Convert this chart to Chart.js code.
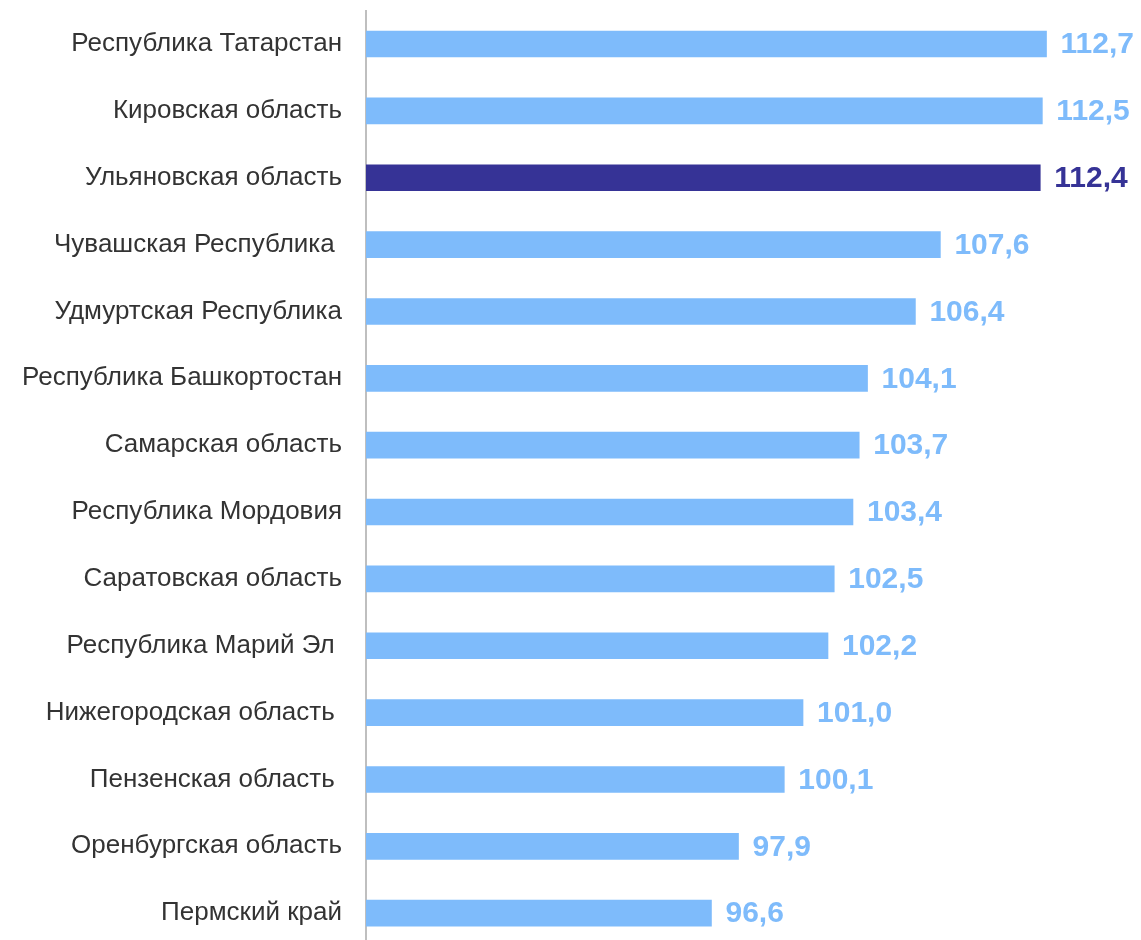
<!DOCTYPE html>
<html>
<head>
<meta charset="utf-8">
<script src="https://cdn.jsdelivr.net/npm/chart.js@4"></script>
<style>
  html, body { margin: 0; padding: 0; background: #fff; }
  #wrap { width: 1141px; height: 940px; overflow: hidden; position: relative; }
  #wrap canvas { display: block; }
</style>
</head>
<body>
<div id="wrap"><canvas id="chart" width="1141" height="950"></canvas></div>
<script>
// ==================== DATA ====================
const regions = [
  'Республика Татарстан',
  'Кировская область',
  'Ульяновская область',
  'Чувашская Республика ',
  'Удмуртская Республика',
  'Республика Башкортостан',
  'Самарская область',
  'Республика Мордовия',
  'Саратовская область',
  'Республика Марий Эл ',
  'Нижегородская область ',
  'Пензенская область ',
  'Оренбургская область',
  'Пермский край'
];
const values = [112.7, 112.5, 112.4, 107.6, 106.4, 104.1, 103.7, 103.4, 102.5, 102.2, 101.0, 100.1, 97.9, 96.6];
const highlight = 'Ульяновская область';

const LIGHT = '#7ebbfb';
const DARK = '#363396';
const FONT = 'Arial, "Liberation Sans", Helvetica, sans-serif';

const barColors = regions.map(r => r === highlight ? DARK : LIGHT);

// value labels at bar ends (no datalabels plugin available offline)
const valueLabels = {
  id: 'valueLabels',
  afterDatasetsDraw(chart) {
    const { ctx } = chart;
    const meta = chart.getDatasetMeta(0);
    ctx.save();
    ctx.font = 'bold 30px ' + FONT;
    ctx.textAlign = 'left';
    ctx.textBaseline = 'middle';
    meta.data.forEach((bar, i) => {
      ctx.fillStyle = barColors[i];
      ctx.fillText(values[i].toFixed(1).replace('.', ','), bar.x + 14, bar.y + 1);
    });
    ctx.restore();
  }
};

new Chart(document.getElementById('chart').getContext('2d'), {
  type: 'bar',
  data: {
    labels: regions,
    datasets: [{
      data: values,
      backgroundColor: barColors,
      borderWidth: 0,
      barThickness: 26
    }]
  },
  options: {
    indexAxis: 'y',
    responsive: false,
    animation: false,
    layout: { padding: { top: 10.6, bottom: 3.4, right: 5, left: 0 } },
    plugins: { legend: { display: false }, tooltip: { enabled: false } },
    scales: {
      x: { display: false, min: 80, max: 117 },
      y: {
        afterFit(scale) {
          scale.width = 366;
          scale.paddingTop = 0;
          scale.paddingBottom = 0;
        },
        grid: { display: false, drawTicks: false },
        border: { display: true, color: '#bfbfbf', width: 2 },
        ticks: {
          padding: 24,
          color: '#333333',
          font: { family: FONT, size: 26 }
        }
      }
    }
  },
  plugins: [valueLabels]
});
</script>
</body>
</html>
